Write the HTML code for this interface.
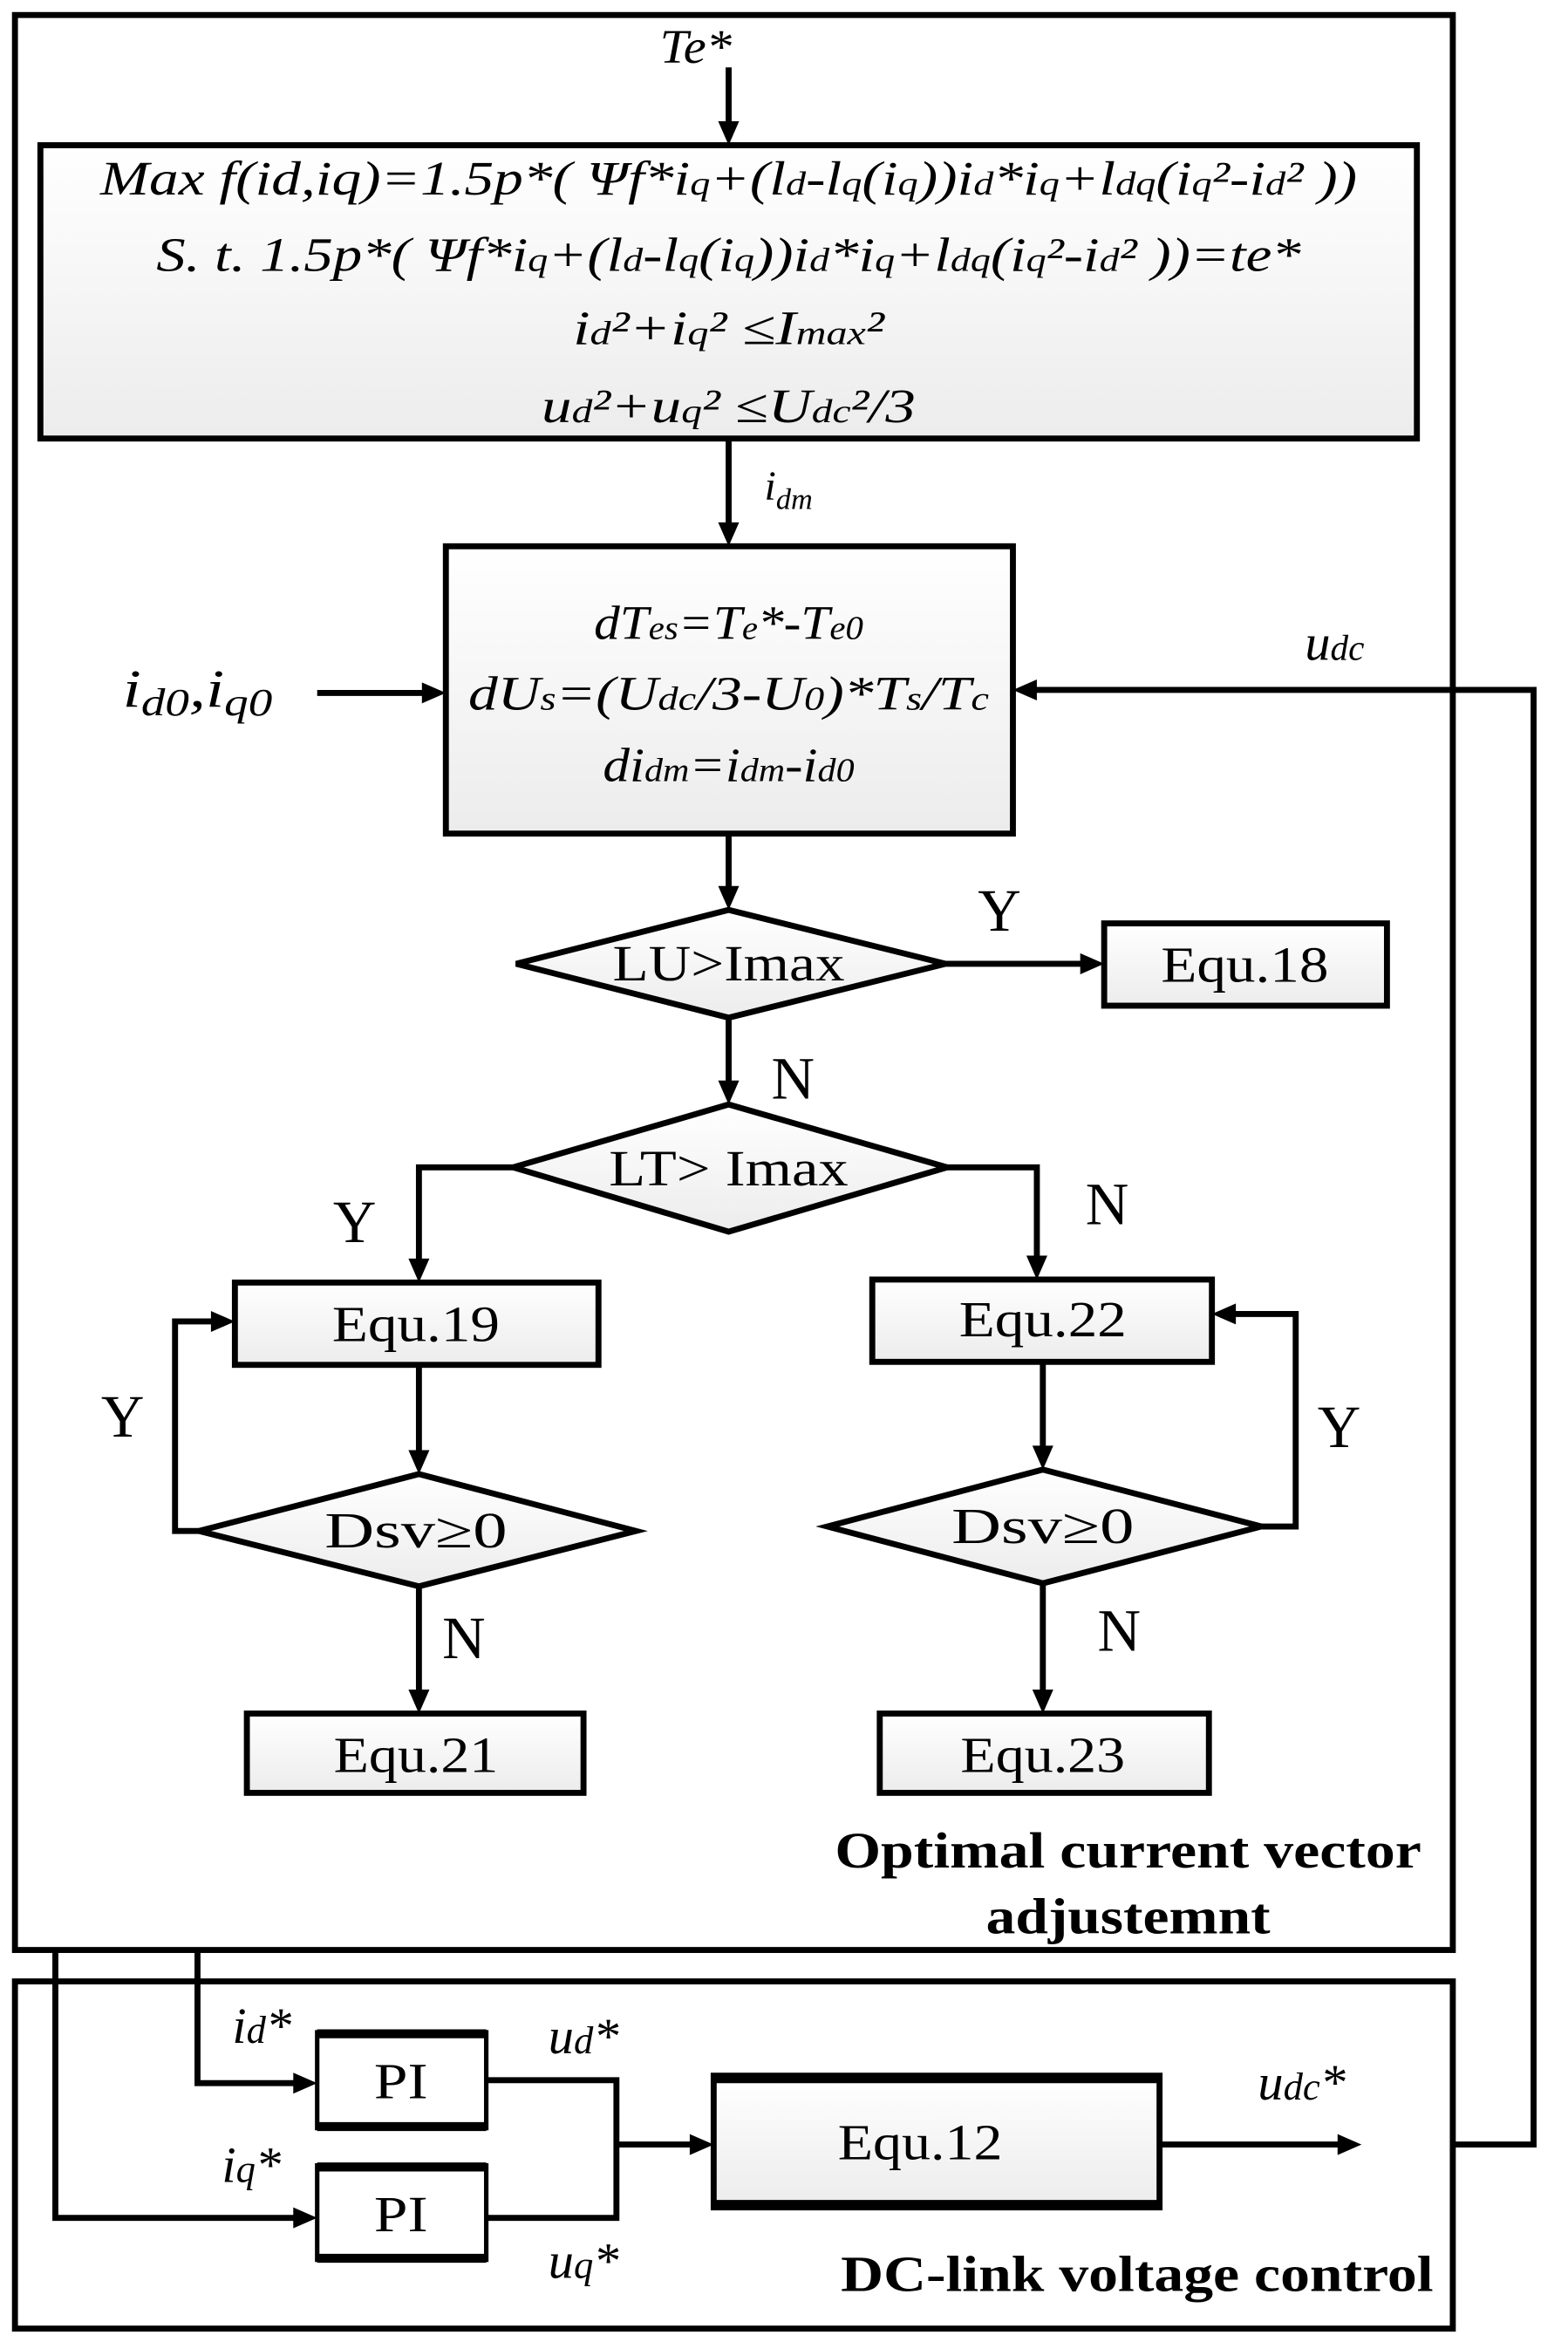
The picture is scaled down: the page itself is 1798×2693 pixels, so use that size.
<!DOCTYPE html>
<html><head><meta charset="utf-8"><style>html,body{margin:0;padding:0;background:#fff}svg{display:block}text{font-family:"Liberation Serif",serif}</style></head>
<body>
<svg width="1798" height="2693" viewBox="0 0 1048 1569.6" xmlns="http://www.w3.org/2000/svg">
<defs>
<linearGradient id="g" x1="0" y1="0" x2="0" y2="1"><stop offset="0" stop-color="#ffffff"/><stop offset="1" stop-color="#ececec"/></linearGradient>
</defs>
<g stroke="#000" stroke-width="4" fill="none">
<rect x="10" y="10" width="961" height="1293"/>
<rect x="10" y="1324" width="961" height="232"/>
<rect x="27" y="97" width="920" height="196" fill="url(#g)"/>
<rect x="298" y="365" width="379" height="192" fill="url(#g)"/>
<polygon points="345,644 487,608 632,644 487,680" fill="url(#g)"/>
<rect x="738" y="617" width="189" height="55" fill="url(#g)"/>
<polygon points="343,780 487,738 633,780 487,823" fill="url(#g)"/>
<rect x="157" y="857" width="243" height="55" fill="url(#g)"/>
<rect x="583" y="855" width="227" height="55" fill="url(#g)"/>
<polygon points="133,1023 280,985 425,1023 280,1060" fill="url(#g)"/>
<polygon points="553,1020 697,982 843,1020 697,1058" fill="url(#g)"/>
<rect x="165" y="1145" width="225" height="53" fill="url(#g)"/>
<rect x="588" y="1145" width="220" height="53" fill="url(#g)"/>
<rect x="477" y="1387" width="298" height="88" fill="url(#g)"/>
<rect x="212" y="1358" width="113" height="64" fill="#fff" stroke-width="3"/>
<rect x="212" y="1447" width="113" height="63" fill="#fff" stroke-width="3"/>
</g>
<g stroke="#000" stroke-width="6">
<line x1="212" y1="1359" x2="325" y2="1359"/><line x1="212" y1="1421" x2="325" y2="1421"/>
<line x1="212" y1="1448" x2="325" y2="1448"/><line x1="212" y1="1509" x2="325" y2="1509"/>
<line x1="477" y1="1389" x2="775" y2="1389"/><line x1="477" y1="1473" x2="775" y2="1473"/>
</g>
<g stroke="#000" stroke-width="4" fill="none">
<line x1="487" y1="45" x2="487" y2="90"/>
<line x1="487" y1="293" x2="487" y2="358"/>
<line x1="212" y1="463" x2="290" y2="463"/>
<polyline points="971,1433 1025,1433 1025,461 684,461"/>
<line x1="487" y1="557" x2="487" y2="600"/>
<line x1="632" y1="644" x2="730" y2="644"/>
<line x1="487" y1="680" x2="487" y2="730"/>
<polyline points="343,780 280,780 280,850"/>
<polyline points="633,780 693,780 693,848"/>
<line x1="280" y1="912" x2="280" y2="978"/>
<line x1="697" y1="910" x2="697" y2="975"/>
<polyline points="133,1023 117,1023 117,883 150,883"/>
<polyline points="843,1020 866,1020 866,878 817,878"/>
<line x1="280" y1="1060" x2="280" y2="1138"/>
<line x1="697" y1="1058" x2="697" y2="1138"/>
<polyline points="132,1303 132,1392 205,1392"/>
<polyline points="37,1303 37,1482 205,1482"/>
<line x1="412" y1="1433" x2="470" y2="1433"/>
<line x1="775" y1="1433" x2="903" y2="1433"/>
<polyline points="325,1390 412,1390 412,1482 325,1482"/>
</g>
<g fill="#000">
<polygon points="480,81 487,97 494,81"/>
<polygon points="480,349 487,365 494,349"/>
<polygon points="480,592 487,608 494,592"/>
<polygon points="480,722 487,738 494,722"/>
<polygon points="273,841 280,857 287,841"/>
<polygon points="686,839 693,855 700,839"/>
<polygon points="273,969 280,985 287,969"/>
<polygon points="690,966 697,982 704,966"/>
<polygon points="273,1129 280,1145 287,1129"/>
<polygon points="690,1129 697,1145 704,1129"/>
<polygon points="282,456 298,463 282,470"/>
<polygon points="722,637 738,644 722,651"/>
<polygon points="141,876 157,883 141,890"/>
<polygon points="196,1385 212,1392 196,1399"/>
<polygon points="196,1475 212,1482 196,1489"/>
<polygon points="461,1426 477,1433 461,1440"/>
<polygon points="894,1426 910,1433 894,1440"/>
<polygon points="693,454 677,461 693,468"/>
<polygon points="826,871 810,878 826,885"/>
</g>
<g font-style="italic" font-size="32" text-anchor="middle" fill="#000">
<text x="465" y="42" textLength="48" lengthAdjust="spacingAndGlyphs">Te*</text>
<text x="487" y="130" textLength="840" lengthAdjust="spacingAndGlyphs">Max f(id,iq)=1.5p*( Ψf*i<tspan font-size="22">q</tspan>+(l<tspan font-size="22">d</tspan>-l<tspan font-size="22">q</tspan>(i<tspan font-size="22">q</tspan>))i<tspan font-size="22">d</tspan>*i<tspan font-size="22">q</tspan>+l<tspan font-size="22">dq</tspan>(i<tspan font-size="22">q</tspan>²-i<tspan font-size="22">d</tspan>² ))</text>
<text x="487" y="181" textLength="765" lengthAdjust="spacingAndGlyphs">S. t. 1.5p*( Ψf*i<tspan font-size="22">q</tspan>+(l<tspan font-size="22">d</tspan>-l<tspan font-size="22">q</tspan>(i<tspan font-size="22">q</tspan>))i<tspan font-size="22">d</tspan>*i<tspan font-size="22">q</tspan>+l<tspan font-size="22">dq</tspan>(i<tspan font-size="22">q</tspan>²-i<tspan font-size="22">d</tspan>² ))=te*</text>
<text x="487" y="230" textLength="208" lengthAdjust="spacingAndGlyphs">i<tspan font-size="22">d</tspan>²+i<tspan font-size="22">q</tspan>² ≤I<tspan font-size="22">max</tspan>²</text>
<text x="487" y="282" textLength="250" lengthAdjust="spacingAndGlyphs">u<tspan font-size="22">d</tspan>²+u<tspan font-size="22">q</tspan>² ≤U<tspan font-size="22">dc</tspan>²/3</text>
<text x="527" y="334" font-size="28">i<tspan font-size="20" dy="6">dm</tspan></text>
<text x="487" y="427" textLength="180" lengthAdjust="spacingAndGlyphs">dT<tspan font-size="22">es</tspan>=T<tspan font-size="22">e</tspan>*-T<tspan font-size="22">e0</tspan></text>
<text x="487" y="474" textLength="348" lengthAdjust="spacingAndGlyphs">dU<tspan font-size="22">s</tspan>=(U<tspan font-size="22">dc</tspan>/3-U<tspan font-size="22">0</tspan>)*T<tspan font-size="22">s</tspan>/T<tspan font-size="22">c</tspan></text>
<text x="487" y="522" textLength="168" lengthAdjust="spacingAndGlyphs">di<tspan font-size="22">dm</tspan>=i<tspan font-size="22">dm</tspan>-i<tspan font-size="22">d0</tspan></text>
<text x="132" y="472" font-size="36" textLength="100" lengthAdjust="spacingAndGlyphs">i<tspan font-size="26" dy="6">d0</tspan><tspan dy="-6">,i</tspan><tspan font-size="26" dy="6">q0</tspan></text>
<text x="892" y="441" font-size="34">u<tspan font-size="24">dc</tspan></text>
<text x="175" y="1365" font-size="34">i<tspan font-size="26">d</tspan>*</text>
<text x="390" y="1372" font-size="34">u<tspan font-size="26">d</tspan>*</text>
<text x="168" y="1458" font-size="34">i<tspan font-size="26">q</tspan>*</text>
<text x="390" y="1522" font-size="34">u<tspan font-size="26">q</tspan>*</text>
<text x="870" y="1403" font-size="34">u<tspan font-size="26">dc</tspan>*</text>
</g>
<g font-size="34" text-anchor="middle" fill="#000">
<text x="487" y="655" textLength="155" lengthAdjust="spacingAndGlyphs">LU&gt;Imax</text>
<text x="832" y="656" textLength="112" lengthAdjust="spacingAndGlyphs">Equ.18</text>
<text x="668" y="622" font-size="40">Y</text>
<text x="530" y="734" font-size="40">N</text>
<text x="487" y="792" textLength="160" lengthAdjust="spacingAndGlyphs">LT&gt; Imax</text>
<text x="237" y="830" font-size="40">Y</text>
<text x="740" y="818" font-size="40">N</text>
<text x="278" y="896" textLength="112" lengthAdjust="spacingAndGlyphs">Equ.19</text>
<text x="697" y="893" textLength="112" lengthAdjust="spacingAndGlyphs">Equ.22</text>
<text x="82" y="960" font-size="40">Y</text>
<text x="895" y="967" font-size="40">Y</text>
<text x="278" y="1034" textLength="122" lengthAdjust="spacingAndGlyphs">Dsv≥0</text>
<text x="697" y="1031" textLength="122" lengthAdjust="spacingAndGlyphs">Dsv≥0</text>
<text x="310" y="1108" font-size="40">N</text>
<text x="748" y="1103" font-size="40">N</text>
<text x="278" y="1184" textLength="110" lengthAdjust="spacingAndGlyphs">Equ.21</text>
<text x="697" y="1184" textLength="110" lengthAdjust="spacingAndGlyphs">Equ.23</text>
<text x="268" y="1402" textLength="36" lengthAdjust="spacingAndGlyphs">PI</text>
<text x="268" y="1491" textLength="36" lengthAdjust="spacingAndGlyphs">PI</text>
<text x="615" y="1443" textLength="110" lengthAdjust="spacingAndGlyphs">Equ.12</text>
<text x="754" y="1248" font-weight="bold" textLength="392" lengthAdjust="spacingAndGlyphs">Optimal current vector</text>
<text x="754" y="1292" font-weight="bold" textLength="190" lengthAdjust="spacingAndGlyphs">adjustemnt</text>
<text x="760" y="1531" font-weight="bold" textLength="396" lengthAdjust="spacingAndGlyphs">DC-link voltage control</text>
</g>
</svg>
</body></html>
